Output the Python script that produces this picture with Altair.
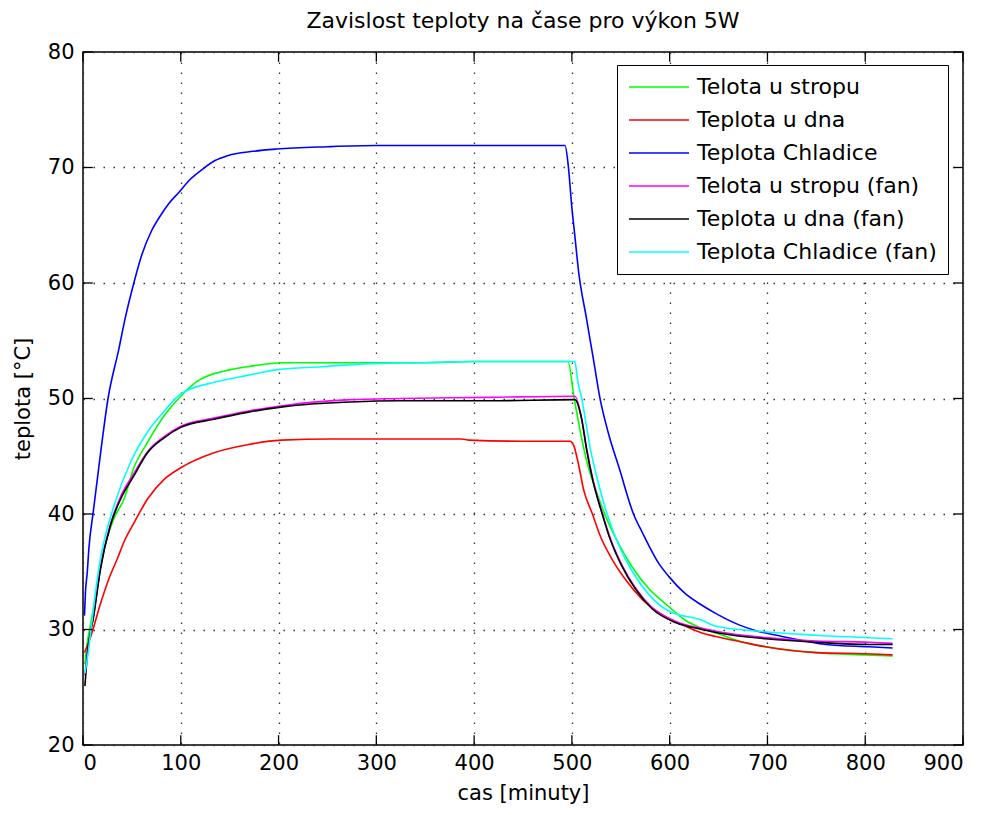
import altair as alt
import pandas as pd

FONT = "DejaVu Sans"

names = ["Telota u stropu", "Teplota u dna", "Teplota Chladice",
         "Telota u stropu (fan)", "Teplota u dna (fan)", "Teplota Chladice (fan)"]
colors = ["#00ff00", "#ff0000", "#0000ff", "#ff00ff", "#000000", "#00ffff"]

green_t = [2, 4, 9, 16, 21, 31.6, 42, 52, 66, 83, 100, 117, 151, 172, 203, 250, 300, 346, 400, 496,
           502, 508, 516, 524, 534, 548, 561, 579, 599, 616, 633, 654, 675, 698, 750, 800, 828]
green_T = [27, 28.6, 31, 34.4, 36.7, 39.6, 41.3, 44.0, 46.2, 48.5, 50.2, 51.5, 52.5, 52.8, 53.1, 53.1, 53.1, 53.1, 53.2, 53.2,
           50.2, 47.4, 44.3, 42.2, 39.9, 37.4, 35.5, 33.5, 32.0, 30.8, 30.1, 29.5, 28.9, 28.5, 28.0, 27.8, 27.7]

red_t = [1.5, 8, 17, 26.5, 35, 42, 52, 66, 83, 100, 134, 168, 203, 254, 300, 387, 395, 450, 498,
         502, 507, 512, 521, 529, 541, 555, 572, 592, 616, 633, 647, 675, 698, 750, 800, 828]
red_T = [28, 29.4, 32, 34.4, 36.1, 37.6, 39.2, 41.3, 43.0, 44.0, 45.3, 46.0, 46.4, 46.5, 46.5, 46.5, 46.4, 46.3, 46.3,
         45.9, 44.2, 42.1, 40.0, 38.1, 36.1, 34.3, 32.6, 31.3, 30.3, 29.7, 29.4, 28.9, 28.5, 28.0, 27.9, 27.8]

blue_t = [1.5, 2.5, 4.4, 6, 10.5, 18, 25.6, 36.7, 43, 52, 60, 70, 79, 88, 97.5, 110, 123, 135, 147, 174, 198, 250, 300, 400, 493,
          496, 500, 503, 507, 515, 522, 529, 537, 549, 563, 572, 589, 599, 616, 633, 647, 671, 688, 715, 760, 804, 828]
blue_T = [31.2, 33.2, 35, 37, 40.2, 45.3, 50, 54.3, 56.9, 60, 62.4, 64.5, 65.8, 66.9, 67.8, 69.0, 69.9, 70.6, 71.0, 71.4, 71.6, 71.8, 71.9, 71.9, 71.9,
          70.4, 66.5, 64.1, 60.9, 56.9, 53.4, 49.9, 47.1, 43.8, 40, 38.4, 35.7, 34.6, 33.1, 32.1, 31.4, 30.4, 29.9, 29.4, 28.7, 28.5, 28.4]

fan_t = [2, 4.3, 11, 18, 28, 38.5, 52, 66, 83, 100, 134, 168, 206, 274, 325, 416, 503,
         510, 515, 522, 531, 538, 551, 565, 582, 606, 633, 650, 698, 750, 804, 828]
magenta_T = [26, 27.9, 31.3, 35.4, 39.1, 41.5, 43.5, 45.4, 46.7, 47.6, 48.3, 48.9, 49.4, 49.9, 50.0, 50.1, 50.2,
             48.3, 45.7, 42.8, 40.1, 38.2, 35.6, 33.6, 31.9, 30.7, 30.1, 29.8, 29.3, 29.0, 28.9, 28.8]
black_T = [25.1, 27.7, 31.2, 35.3, 39.0, 41.3, 43.3, 45.3, 46.6, 47.5, 48.2, 48.8, 49.3, 49.7, 49.8, 49.8, 49.9,
           48.2, 45.6, 42.7, 40.0, 38.1, 35.5, 33.5, 31.8, 30.6, 30.0, 29.7, 29.2, 28.9, 28.7, 28.7]

cyan_t = [2, 5, 9.4, 14, 18, 24, 31.6, 48.7, 66, 83, 100, 134, 168, 199, 244, 288, 346, 400, 503,
          506, 510, 519, 527, 536, 548, 562, 579, 599, 633, 647, 698, 750, 828]
cyan_T = [26.2, 27.8, 30.9, 34.0, 36.2, 38.5, 40.7, 44.5, 47.1, 48.9, 50.4, 51.4, 52.0, 52.5, 52.75, 53.0, 53.1, 53.2, 53.2,
          51.5, 50.0, 45.6, 42.7, 40.0, 37.3, 35.0, 33.0, 31.6, 30.8, 30.3, 29.8, 29.5, 29.2]

series = [
    (names[0], green_t, green_T),
    (names[1], red_t, red_T),
    (names[2], blue_t, blue_T),
    (names[3], fan_t, magenta_T),
    (names[4], fan_t, black_T),
    (names[5], cyan_t, cyan_T),
]

x_ticks = [0, 100, 200, 300, 400, 500, 600, 700, 800, 900]
y_ticks = [20, 30, 40, 50, 60, 70, 80]

xs = alt.Scale(domain=[0, 900], nice=False, zero=False)
ys = alt.Scale(domain=[20, 80], nice=False, zero=False)
cs = alt.Scale(domain=names, range=colors)

layers = []
for i, (nm, t, T) in enumerate(series):
    df = pd.DataFrame({"t": t, "T": T, "series": nm})
    enc = dict(
        x=alt.X("t:Q", scale=xs, title="cas [minuty]",
                axis=alt.Axis(values=x_ticks, format="d")),
        y=alt.Y("T:Q", scale=ys, title="teplota [°C]",
                axis=alt.Axis(values=y_ticks, format="d")),
        color=alt.Color("series:N", scale=cs,
                        legend=alt.Legend(title=None, orient="none", legendX=534, legendY=13)),
        order=alt.Order("t:Q"),
    )
    layers.append(alt.Chart(df).mark_line(strokeWidth=1.6, clip=True,
                                          interpolate="monotone").encode(**enc))

# inward tick marks on all four sides (MATLAB box style)
xt = pd.DataFrame({"v": x_ticks})
yt = pd.DataFrame({"v": y_ticks})
tick_style = dict(color="black", strokeWidth=1.3)
bx = alt.Chart(xt).mark_rule(**tick_style).encode(
    x=alt.X("v:Q", scale=xs), y=alt.datum(20), y2=alt.datum(20.85))
tx = alt.Chart(xt).mark_rule(**tick_style).encode(
    x=alt.X("v:Q", scale=xs), y=alt.datum(79.15), y2=alt.datum(80))
ly = alt.Chart(yt).mark_rule(**tick_style).encode(
    y=alt.Y("v:Q", scale=ys), x=alt.datum(0), x2=alt.datum(10))
ry = alt.Chart(yt).mark_rule(**tick_style).encode(
    y=alt.Y("v:Q", scale=ys), x=alt.datum(890), x2=alt.datum(900))

chart = alt.layer(*layers, bx, tx, ly, ry).properties(
    width=880, height=693,
    title=alt.Title("Zavislost teploty na čase pro výkon 5W"),
    padding={"left": 75, "top": 44, "right": 12, "bottom": 62},
    autosize=alt.AutoSizeParams(type="none"),
    background="white",
).configure_view(
    stroke="black", strokeWidth=1.5
).configure_axis(
    domain=False, ticks=False, grid=True,
    gridColor="#333333", gridDash=[1.5, 8.5], gridWidth=1.3, gridOpacity=1,
    labelFont=FONT, labelFontSize=21, labelColor="black",
    titleFont=FONT, titleFontSize=21, titleColor="black", titleFontWeight="normal",
).configure_axisX(
    labelPadding=7, titlePadding=9,
).configure_axisY(
    labelPadding=9, titlePadding=14,
).configure_title(
    font=FONT, fontSize=22, fontWeight="normal", color="black", offset=8,
).configure_legend(
    symbolType="M-1,0H5", symbolSize=400, symbolStrokeWidth=1.6,
    labelFont=FONT, labelFontSize=22, labelColor="black", labelOffset=47,
    rowPadding=11, padding=11, fillColor="white", strokeColor="black",
    labelLimit=400,
)

chart.save("out.html", embed_options={"renderer": "svg", "actions": False})
